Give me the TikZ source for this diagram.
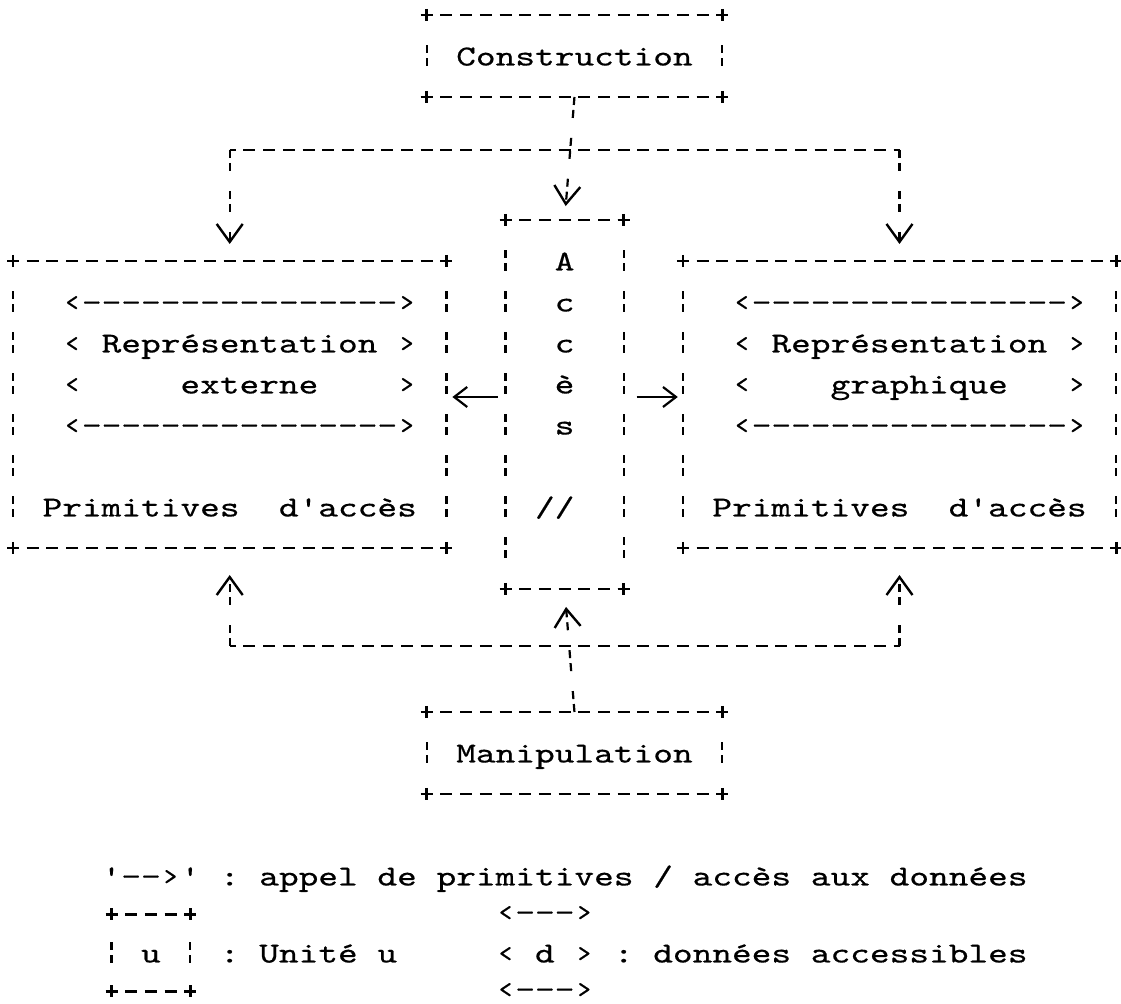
\documentclass[tikz,border=0pt]{standalone}
\usepackage{fontspec}
\newfontfamily\cour[FakeStretch=1.294,FakeBold=0.5,Ligatures=TeXOff]{lmmono10-regular.otf}
\usetikzlibrary{arrows.meta,fit}
\tikzset{
  hd/.style={line width=1.3pt, dash pattern=on 6pt off 3.85pt, dash phase=3pt},
  vd/.style={line width=1.1pt, dash pattern=on 4pt off 2.5pt on 4pt off 10pt},
  pl/.style={line width=1.3pt},
  txt/.style={anchor=base west, inner sep=0pt, outer sep=0pt, font=\cour\fontsize{14.5pt}{17pt}\selectfont},
  boxnode/.style={inner sep=0pt, outer sep=0pt, draw=none},
  vtip/.style={-{Straight Barb[length=9pt,width=13pt,line width=1.2pt]}},
  htip/.style={-{Straight Barb[length=6.5pt,width=10pt,line width=1.1pt]}, line width=1.1pt},
}
\newcommand\pluses[1]{%
  \foreach \k in {north west,north east,south west,south east}{%
    \draw[pl] ([yshift=3pt]#1.\k) -- ([yshift=-3pt]#1.\k) ([xshift=-3pt]#1.\k) -- ([xshift=3pt]#1.\k);}%
}
\newcommand\mkbox[5]{%
  \node[boxnode, fit={({cx(#2)},{ry(#3)}) ({cx(#4)},{ry(#5)})}] (#1) {};
  \draw[hd] (#1.north west) -- (#1.north east);
  \draw[hd] (#1.south west) -- (#1.south east);
  \draw[vd] ([yshift=-15.25pt]#1.north west) -- ([yshift=15.25pt]#1.south west);
  \draw[vd] ([yshift=-15.25pt]#1.north east) -- ([yshift=15.25pt]#1.south east);
  \pluses{#1}
}
\newcommand\ptxt[4]{\node[txt] (#1) at ({cx(#2)-9.85},{ry(#3)+9.5}) {#4};}
\newcommand\ltxt[4]{\node[txt] (#1) at ({cx(#2)-9.85},{ly(#3)+9.5}) {#4};}
\newcommand\ldash[4]{\node[txt] (#1) at ({cx(#2)-9.85},{ly(#3)+7}) {#4};}
\begin{document}
\begin{tikzpicture}[x=0.5pt,y=-0.5pt,
  declare function={cx(\c)=13+19.7*\c; ry(\r)=302+41*\r; ly(\r)=876+38.5*\r;}]
\useasboundingbox[fill=white] (0,0) rectangle (1121,1004);

% boxes
\mkbox{cons}{21}{-7}{36}{-5}
\mkbox{acces}{25}{-2}{31}{7}
\mkbox{repext}{0}{-1}{22}{6}
\mkbox{repgra}{34}{-1}{56}{6}
\mkbox{manip}{21}{10}{36}{12}

% texts
\ptxt{consT}{23}{-6}{Construction}
\ptxt{manT}{23}{11}{Manipulation}

\ptxt{le1}{3}{0}{‹----------------›}
\ptxt{le2a}{3}{1}{‹}\ptxt{le2b}{5}{1}{Représentation}\ptxt{le2c}{20}{1}{›}
\ptxt{le3a}{3}{2}{‹}\ptxt{le3b}{9}{2}{externe}\ptxt{le3c}{20}{2}{›}
\ptxt{le4}{3}{3}{‹----------------›}
\ptxt{le5a}{2}{5}{Primitives}\ptxt{le5b}{14}{5}{d'accès}

\ptxt{ri1}{37}{0}{‹----------------›}
\ptxt{ri2a}{37}{1}{‹}\ptxt{ri2b}{39}{1}{Représentation}\ptxt{ri2c}{54}{1}{›}
\ptxt{ri3a}{37}{2}{‹}\ptxt{ri3b}{42}{2}{graphique}\ptxt{ri3c}{54}{2}{›}
\ptxt{ri4}{37}{3}{‹----------------›}
\ptxt{ri5a}{36}{5}{Primitives}\ptxt{ri5b}{48}{5}{d'accès}

\ptxt{ac1}{28}{-1}{A}
\ptxt{ac2}{28}{0}{c}
\ptxt{ac3}{28}{1}{c}
\ptxt{ac4}{28}{2}{è}
\ptxt{ac5}{28}{3}{s}
\ptxt{ac6}{27}{5}{//}

% connectors from Construction
\coordinate (tl) at ({cx(11)},150);
\coordinate (tr) at ({cx(45)},150);
\draw[hd] (tl) -- (tr);
\draw[vd,vtip,shorten >=7pt] (cons.south) -- (acces.north);
\draw[vd,vtip,shorten >=8.5pt] (tl) -- (tl |- repext.north);
\draw[vd,vtip,shorten >=8.5pt] (tr) -- (tr |- repgra.north);

% connectors from Manipulation
\coordinate (bl) at ({cx(11)},646);
\coordinate (br) at ({cx(45)},646);
\draw[hd] (bl) -- (br);
\draw[vd,vtip,shorten >=13.5pt] (bl) -- (bl |- repext.south);
\draw[vd,vtip,shorten >=13.5pt] (br) -- (br |- repgra.south);
\draw[vd,vtip,shorten >=9pt] (manip.north) -- (acces.south);

% Acces to representations
\coordinate (ya) at (0,397);
\draw[htip,shorten <=4pt,shorten >=3pt] (acces.west |- ya) -- (repext.east |- ya);
\draw[htip,shorten <=6.5pt,shorten >=2.5pt] (acces.east |- ya) -- (repgra.west |- ya);

% legend
\ltxt{lg1a}{5}{0}{'--›'}
\ltxt{lg1b}{11}{0}{:}
\ltxt{lg1c}{13}{0}{appel}
\ltxt{lg1d}{19}{0}{de}
\ltxt{lg1e}{22}{0}{primitives}
\ltxt{lg1f}{33}{0}{/}
\ltxt{lg1g}{35}{0}{accès}
\ltxt{lg1h}{41}{0}{aux}
\ltxt{lg1i}{45}{0}{données}

\node[boxnode, fit={({cx(5)},{ly(1)}) ({cx(9)},{ly(3)})}] (unitbox) {};
\draw[hd] (unitbox.north west) -- (unitbox.north east);
\draw[hd] (unitbox.south west) -- (unitbox.south east);
\draw[vd] ({cx(5)},{ly(2)-10.5}) -- ({cx(5)},{ly(2)+10.5});
\draw[vd] ({cx(9)},{ly(2)-10.5}) -- ({cx(9)},{ly(2)+10.5});
\pluses{unitbox}

\ltxt{lgu}{7}{2}{u}
\ltxt{lg2a}{11}{2}{:}
\ltxt{lg2b}{13}{2}{Unité}
\ltxt{lg2c}{19}{2}{u}
\ldash{lg3}{25}{1}{‹---›}
\ltxt{lg4a}{25}{2}{‹}
\ltxt{lg4b}{27}{2}{d}
\ltxt{lg4c}{29}{2}{›}
\ltxt{lg4d}{31}{2}{:}
\ltxt{lg4e}{33}{2}{données}
\ltxt{lg4f}{41}{2}{accessibles}
\ldash{lg5}{25}{3}{‹---›}
\end{tikzpicture}
\end{document}
